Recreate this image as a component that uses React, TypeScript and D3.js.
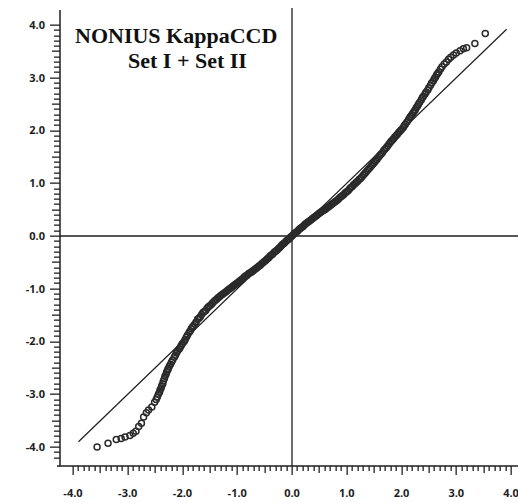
import React from "react";
import * as d3 from "d3";

const W = 518;
const H = 503;

// Normal probability plot: [expected quantile, observed residual]
const lowerTail: [number, number][] = [
  [-3.56, -4.0], [-3.36, -3.93], [-3.21, -3.86], [-3.12, -3.84], [-3.05, -3.81],
  [-2.96, -3.78], [-2.9, -3.74], [-2.85, -3.7], [-2.8, -3.61], [-2.75, -3.55],
  [-2.71, -3.43], [-2.66, -3.35], [-2.62, -3.3], [-2.56, -3.24], [-2.51, -3.15],
  [-2.46, -3.05], [-2.42, -2.96], [-2.39, -2.88], [-2.36, -2.8], [-2.33, -2.7],
  [-2.3, -2.62], [-2.27, -2.54], [-2.24, -2.47], [-2.2, -2.39], [-2.15, -2.3],
  [-2.11, -2.22], [-2.06, -2.14], [-2.02, -2.07], [-1.97, -2.0], [-1.93, -1.92],
  [-1.88, -1.83], [-1.84, -1.76],
];

const lowerTailB: [number, number][] = [
  [-1.82, -1.73], [-1.86, -1.8], [-1.91, -1.88], [-1.95, -1.96], [-2.0, -2.04],
  [-2.04, -2.11], [-2.09, -2.18], [-2.13, -2.26], [-2.18, -2.35], [-2.22, -2.43],
  [-2.26, -2.51], [-2.29, -2.58], [-2.32, -2.66], [-2.35, -2.75], [-2.38, -2.84],
  [-2.41, -2.92], [-2.44, -3.0], [-2.48, -3.1],
];

const centre: [number, number][] = [
  [-1.8, -1.7], [-1.75, -1.63], [-1.7, -1.56], [-1.65, -1.49], [-1.6, -1.43],
  [-1.55, -1.37], [-1.5, -1.32], [-1.45, -1.27], [-1.4, -1.22], [-1.35, -1.17],
  [-1.3, -1.13], [-1.25, -1.09], [-1.2, -1.05], [-1.15, -1.01], [-1.1, -0.97],
  [-1.05, -0.93], [-1.0, -0.89], [-0.95, -0.85], [-0.9, -0.81], [-0.85, -0.76],
  [-0.8, -0.72], [-0.75, -0.69], [-0.7, -0.65], [-0.65, -0.61], [-0.6, -0.57],
  [-0.55, -0.52], [-0.5, -0.48], [-0.45, -0.43], [-0.4, -0.38], [-0.35, -0.34],
  [-0.3, -0.29], [-0.25, -0.24], [-0.2, -0.19], [-0.15, -0.14], [-0.1, -0.09],
  [-0.05, -0.05], [0.0, 0.0], [0.05, 0.05], [0.1, 0.09], [0.15, 0.14],
  [0.2, 0.18], [0.25, 0.23], [0.3, 0.27], [0.35, 0.31], [0.4, 0.35],
  [0.45, 0.39], [0.5, 0.43], [0.55, 0.47], [0.6, 0.5], [0.65, 0.54],
  [0.7, 0.58], [0.75, 0.62], [0.8, 0.66], [0.85, 0.7], [0.9, 0.75],
  [0.95, 0.79], [1.0, 0.84], [1.05, 0.89], [1.1, 0.94], [1.15, 0.99],
  [1.2, 1.04], [1.25, 1.09], [1.3, 1.15], [1.35, 1.21], [1.4, 1.27],
  [1.45, 1.33], [1.5, 1.39], [1.55, 1.45], [1.6, 1.52], [1.65, 1.58],
  [1.7, 1.65], [1.75, 1.71], [1.8, 1.78], [1.85, 1.84], [1.9, 1.9],
  [1.95, 1.96], [2.0, 2.02],
];

const centreB: [number, number][] = [
  [-1.775, -1.67], [-1.725, -1.58], [-1.675, -1.53], [-1.625, -1.45], [-1.575, -1.41],
  [-1.525, -1.34], [-1.475, -1.3], [-1.425, -1.24], [-1.375, -1.2], [-1.325, -1.15],
  [-1.275, -1.11], [-1.225, -1.07], [-1.175, -1.03], [-1.125, -0.99], [-1.075, -0.95],
  [-1.025, -0.91], [-0.975, -0.87], [-0.925, -0.83], [-0.875, -0.78], [-0.825, -0.75],
  [-0.775, -0.7], [-0.725, -0.67], [-0.675, -0.63], [-0.625, -0.59], [-0.575, -0.55],
  [-0.525, -0.5], [-0.475, -0.46], [-0.425, -0.41], [-0.375, -0.36], [-0.325, -0.31],
  [-0.275, -0.27], [-0.225, -0.22], [-0.175, -0.16], [-0.125, -0.12], [-0.075, -0.07],
  [-0.025, -0.02], [0.025, 0.03], [0.075, 0.07], [0.125, 0.12], [0.175, 0.16],
  [0.225, 0.21], [0.275, 0.25], [0.325, 0.29], [0.375, 0.33], [0.425, 0.37],
  [0.475, 0.41], [0.525, 0.45], [0.575, 0.49], [0.625, 0.52], [0.675, 0.56],
  [0.725, 0.6], [0.775, 0.64], [0.825, 0.68], [0.875, 0.73], [0.925, 0.77],
  [0.975, 0.82], [1.025, 0.86], [1.075, 0.92], [1.125, 0.97], [1.175, 1.02],
  [1.225, 1.07], [1.275, 1.12], [1.325, 1.18], [1.375, 1.24], [1.425, 1.3],
  [1.475, 1.36], [1.525, 1.42], [1.575, 1.49], [1.625, 1.55], [1.675, 1.62],
  [1.725, 1.68], [1.775, 1.75], [1.825, 1.81], [1.875, 1.87], [1.925, 1.93],
  [1.975, 1.99],
];

const upperTail: [number, number][] = [
  [2.05, 2.09], [2.1, 2.16], [2.13, 2.21], [2.17, 2.27], [2.21, 2.33],
  [2.25, 2.39], [2.29, 2.46], [2.33, 2.53], [2.36, 2.58], [2.4, 2.65],
  [2.45, 2.73], [2.5, 2.81], [2.55, 2.9], [2.6, 2.98], [2.64, 3.05],
  [2.68, 3.11], [2.71, 3.16], [2.74, 3.21], [2.78, 3.26], [2.82, 3.3],
  [2.86, 3.35], [2.9, 3.39], [2.95, 3.43], [3.0, 3.47], [3.07, 3.51],
  [3.13, 3.55], [3.19, 3.57], [3.34, 3.65], [3.53, 3.84],
];

const upperTailB: [number, number][] = [
  [2.03, 2.05], [2.07, 2.12], [2.15, 2.24], [2.19, 2.3], [2.23, 2.36],
  [2.27, 2.43], [2.31, 2.5], [2.38, 2.62], [2.43, 2.69], [2.48, 2.77],
  [2.53, 2.86], [2.58, 2.94], [2.62, 3.01], [2.66, 3.08],
];

const idealLine: [number, number][] = [[-3.9, -3.9], [3.92, 3.92]];

const tickLabels = ["-4.0", "-3.0", "-2.0", "-1.0", "0.0", "1.0", "2.0", "3.0", "4.0"];
const tickValues = [-4, -3, -2, -1, 0, 1, 2, 3, 4];

const titleLine1 = "NONIUS KappaCCD";
const titleLine2 = "Set I + Set II";

export default function App() {
  const x = d3.scaleLinear().domain([-4, 4]).range([73, 511]);
  const y = d3.scaleLinear().domain([-4, 4]).range([447, 25]);

  const axisX = 60;
  const axisY = 466;
  const ink = "#1e1e1e";

  const yTicks = d3.range(-42, 41);
  const xTicks = d3.range(-40, 41);
  const tickLen = (t: number, major: number, mid: number, minor: number) => {
    if (t % 10 === 0) return major;
    if (t % 5 === 0) return mid;
    return minor;
  };

  const points = [...lowerTail, ...lowerTailB, ...centre, ...centreB, ...upperTail, ...upperTailB];
  const line = d3.line<[number, number]>().x((d) => x(d[0])).y((d) => y(d[1]));

  const labelFont = "'Open Sans', 'DejaVu Sans', sans-serif";

  return (
    <svg
      width={W}
      height={H}
      style={{ position: "absolute", left: 0, top: 0, background: "#fff" }}
    >
      <rect x={0} y={0} width={W} height={H} fill="#fff" />
      {/* zero cross lines */}
      <line x1={axisX} x2={W} y1={y(0)} y2={y(0)} stroke={ink} strokeWidth={1.3} />
      <line x1={x(0)} x2={x(0)} y1={8} y2={axisY} stroke={ink} strokeWidth={1.3} />

      {/* y axis */}
      <line x1={axisX} x2={axisX} y1={10} y2={axisY} stroke={ink} strokeWidth={1.5} />
      {yTicks.map((t) => (
        <rect
          key={"yt" + t}
          x={axisX - tickLen(t, 10, 8, 6)}
          y={Math.round(y(t / 10)) - 0.5}
          width={tickLen(t, 10, 8, 6)}
          height={1.3}
          fill="#222"
        />
      ))}
      {tickValues.map((v, i) => (
        <text
          key={"yl" + v}
          x={45}
          y={y(v)}
          dy="0.36em"
          textAnchor="end"
          fontFamily={labelFont}
          fontWeight={700}
          fontSize={11}
          fill={ink}
        >
          {tickLabels[i]}
        </text>
      ))}

      {/* x axis */}
      <line x1={axisX - 3} x2={W} y1={axisY} y2={axisY} stroke={ink} strokeWidth={1.5} />
      {xTicks.map((t) => (
        <rect
          key={"xt" + t}
          x={Math.round(x(t / 10)) - 0.5}
          y={axisY}
          width={1.3}
          height={tickLen(t, 9, 7, 5)}
          fill="#222"
        />
      ))}
      {tickValues.map((v, i) => (
        <text
          key={"xl" + v}
          x={x(v)}
          y={497}
          textAnchor="middle"
          fontFamily={labelFont}
          fontWeight={700}
          fontSize={11}
          fill={ink}
        >
          {tickLabels[i]}
        </text>
      ))}

      {/* ideal line */}
      <path d={line(idealLine) || ""} stroke={ink} strokeWidth={1.2} fill="none" />

      {/* data points */}
      {points.map((p, i) => (
        <circle
          key={"p" + i}
          cx={x(p[0])}
          cy={y(p[1])}
          r={3}
          fill="none"
          stroke="#2a2a2a"
          strokeWidth={1.5}
        />
      ))}

      {/* title */}
      <text
        x={75}
        y={43}
        fontFamily="'Liberation Serif', 'Times New Roman', serif"
        fontWeight="bold"
        fontSize={22}
        fill="#111"
      >
        {titleLine1}
      </text>
      <text
        x={128}
        y={68}
        fontFamily="'Liberation Serif', 'Times New Roman', serif"
        fontWeight="bold"
        fontSize={22}
        fill="#111"
      >
        {titleLine2}
      </text>
    </svg>
  );
}
